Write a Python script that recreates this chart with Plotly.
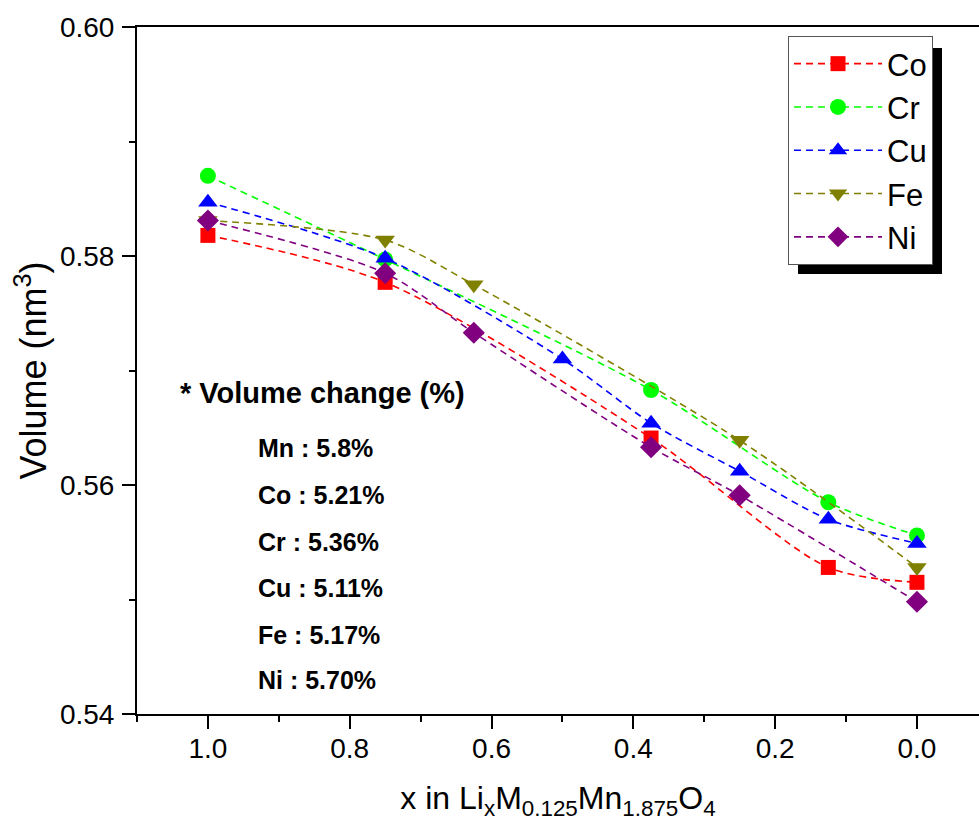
import plotly.graph_objects as go

# ---- data ----
co_x = [1.0, 0.75, 0.375, 0.125, 0.0]
co_y = [0.5818, 0.5777, 0.5641, 0.5528, 0.5515]

cr_x = [1.0, 0.75, 0.375, 0.125, 0.0]
cr_y = [0.5870, 0.5797, 0.5683, 0.5585, 0.5556]

cu_x = [1.0, 0.75, 0.5, 0.375, 0.25, 0.125, 0.0]
cu_y = [0.5847, 0.5798, 0.5710, 0.5654, 0.5612, 0.5570, 0.5549]

fe_x = [1.0, 0.75, 0.625, 0.25, 0.0]
fe_y = [0.5831, 0.5814, 0.5775, 0.5639, 0.5528]

ni_x = [1.0, 0.75, 0.625, 0.375, 0.25, 0.0]
ni_y = [0.5831, 0.5785, 0.5733, 0.5633, 0.5591, 0.5498]

series_names = ["Co", "Cr", "Cu", "Fe", "Ni"]
series_colors = ["#FF0000", "#00FF00", "#0000FF", "#808000", "#800080"]
series_symbols = ["square", "circle", "triangle-up", "triangle-down", "diamond"]
series_sizes = [15, 16, 17, 17, 17]

note_title = "* Volume change (%)"
note_lines = ["Mn : 5.8%", "Co : 5.21%", "Cr : 5.36%", "Cu : 5.11%", "Fe : 5.17%", "Ni : 5.70%"]

xs = [co_x, cr_x, cu_x, fe_x, ni_x]
ys = [co_y, cr_y, cu_y, fe_y, ni_y]

FONT = "Arial, Liberation Sans, sans-serif"

W, H = 979, 829
ML, MR, MT, MB = 137, 0, 27, 115
PW, PH = W - ML - MR, H - MT - MB


def px_x(p):
    return (p - ML) / PW


def px_y(p):
    return (H - MB - p) / PH


fig = go.Figure()
for name, x, y, c, s, sz in zip(series_names, xs, ys, series_colors, series_symbols, series_sizes):
    fig.add_trace(go.Scatter(
        x=x, y=y, name=name, mode="lines+markers",
        line=dict(color=c, width=1.6, dash="7px,5px", shape="spline", smoothing=0.8),
        marker=dict(symbol=s, size=sz, color=c, line=dict(width=0)),
    ))

# annotation text block
fig.add_annotation(x=px_x(178), y=px_y(393), xref="paper", yref="paper",
                   text="<b>" + note_title + "</b>", showarrow=False,
                   xanchor="left", yanchor="middle",
                   font=dict(family=FONT, size=29, color="black"))
line_centers = [448, 495, 542, 588, 635, 680]
for t, yc in zip(note_lines, line_centers):
    fig.add_annotation(x=px_x(256), y=px_y(yc), xref="paper", yref="paper",
                       text="<b>" + t + "</b>", showarrow=False,
                       xanchor="left", yanchor="middle",
                       font=dict(family=FONT, size=25, color="black"))

# legend shadow
fig.add_shape(type="rect", xref="paper", yref="paper",
              x0=px_x(798), x1=px_x(942), y0=px_y(274), y1=px_y(48),
              fillcolor="black", line=dict(width=0), layer="above")

fig.update_layout(
    width=W, height=H,
    margin=dict(l=ML, r=MR, t=MT, b=MB, autoexpand=False),
    paper_bgcolor="white", plot_bgcolor="white",
    font=dict(family=FONT, color="black"),
    showlegend=True,
    legend=dict(x=px_x(788), y=px_y(36), xanchor="left", yanchor="top",
                bgcolor="white", bordercolor="#555555", borderwidth=1,
                font=dict(family=FONT, size=31, color="black"),
                itemwidth=88, tracegroupgap=0),
    xaxis=dict(range=[1.1, -0.0875], showgrid=False, zeroline=False,
               showline=True, linecolor="black", linewidth=2, mirror=True,
               ticks="outside", ticklen=13, tickwidth=2, tickcolor="black",
               tick0=0, dtick=0.2, tickformat=".1f",
               tickfont=dict(family=FONT, size=28, color="black"),
               ticklabelstandoff=-5,
               minor=dict(ticks="outside", ticklen=6, tickwidth=2, tickcolor="black", dtick=0.1, tick0=0),
               title=dict(text="x in Li<sub>x</sub>M<sub>0.125</sub>Mn<sub>1.875</sub>O<sub>4</sub>",
                          font=dict(family=FONT, size=32, color="black"), standoff=24)),
    yaxis=dict(range=[0.54, 0.60], showgrid=False, zeroline=False,
               showline=True, linecolor="black", linewidth=2, mirror=False,
               ticks="outside", ticklen=13, tickwidth=2, tickcolor="black",
               tick0=0.54, dtick=0.02, tickformat=".2f",
               tickfont=dict(family=FONT, size=28, color="black"),
               ticklabelstandoff=2,
               minor=dict(ticks="outside", ticklen=6, tickwidth=2, tickcolor="black", dtick=0.01, tick0=0.54),
               title=dict(text="Volume (nm<sup>3</sup>)",
                          font=dict(family=FONT, size=36, color="black"), standoff=2)),
)

fig.write_html("out.html", config={"displayModeBar": False},
               post_script="document.body.style.margin='0px';")
